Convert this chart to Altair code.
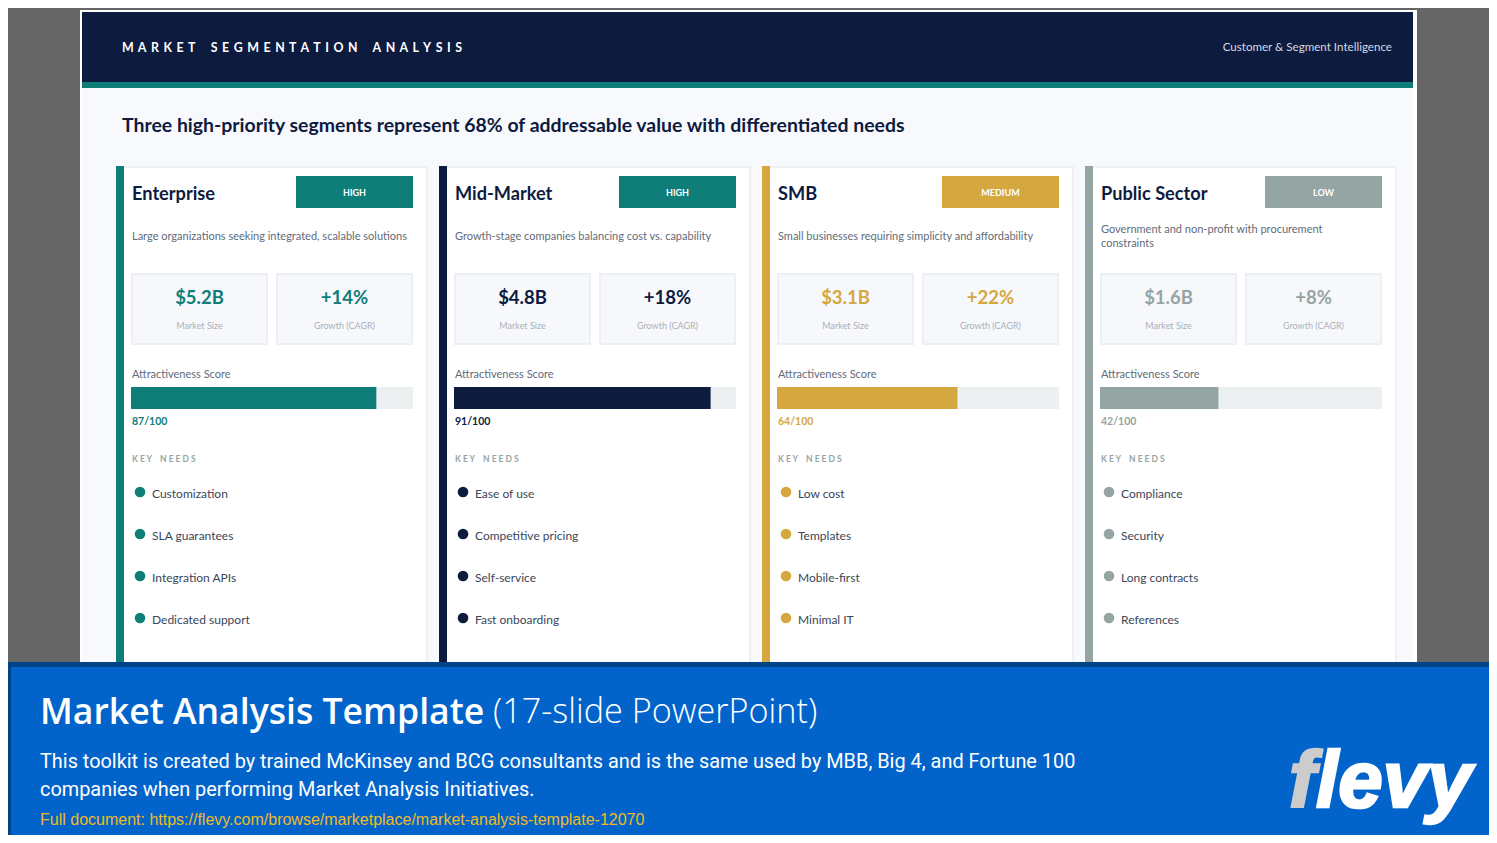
#! /usr/bin/env python3
"""Market segmentation slide with the flevy banner, drawn on one pixel-sized canvas."""
import altair as alt
import pandas as pd

segments = ["Enterprise", "Mid-Market", "SMB", "Public Sector"]
priorities = ["HIGH", "HIGH", "MEDIUM", "LOW"]
descriptions = [
    ["Large organizations seeking integrated, scalable solutions"],
    ["Growth-stage companies balancing cost vs. capability"],
    ["Small businesses requiring simplicity and affordability"],
    ["Government and non-profit with procurement", "constraints"],
]
market_sizes = ["$5.2B", "$4.8B", "$3.1B", "$1.6B"]
growth_rates = ["+14%", "+18%", "+22%", "+8%"]
scores = [87, 91, 64, 42]
key_needs = [
    ["Customization", "SLA guarantees", "Integration APIs", "Dedicated support"],
    ["Ease of use", "Competitive pricing", "Self-service", "Fast onboarding"],
    ["Low cost", "Templates", "Mobile-first", "Minimal IT"],
    ["Compliance", "Security", "Long contracts", "References"],
]
segment_colors = ["#0f7d78", "#0d1b3f", "#d4a73f", "#95a5a3"]
badge_colors = {"HIGH": "#0f7d78", "MEDIUM": "#d4a73f", "LOW": "#95a5a3"}

NAVY = "#0d1b3f"
SANS = "Lato"
BANNER = "Open Sans"
ARIAL = "Liberation Sans"

# the page keeps 8px round the chart, so the canvas covers 8..1489 and 8..835
RIGHT = 1489
BOTTOM = 835
x_scale = alt.Scale(domain=[8, RIGHT], range=[0, RIGHT - 8], nice=False, zero=False)
y_scale = alt.Scale(domain=[8, BOTTOM], range=[0, BOTTOM - 8], nice=False, zero=False)

rects = []
dots = []


def box(x, y, x2, y2, fill):
    rects.append({"x": x, "y": y, "x2": x2, "y2": y2, "fill": fill})


def text_layer(rows, size, font=SANS, weight="normal", align="left", **kw):
    df = pd.DataFrame(rows, columns=["x", "y", "t", "c"])
    return alt.Chart(df).mark_text(
        font=font, fontSize=size, fontWeight=weight, align=align, baseline="middle", **kw
    ).encode(
        x=alt.X("x:Q", scale=x_scale, axis=None),
        y=alt.Y("y:Q", scale=y_scale, axis=None),
        text="t:N",
        color=alt.Color("c:N", scale=None),
    )


def spaced(s, gap="\u2009 "):
    return gap.join(s.replace(" ", "\u2002"))


# slide frame
box(8, 8, RIGHT, BOTTOM, "#666666")
box(80, 10, 1417, BOTTOM, "#ffffff")
box(82, 12, 1413, BOTTOM, "#f8f9fd")
box(82, 12, 1413, 82, NAVY)
box(82, 82, 1413, 88, "#0f7d78")

names, badges, descs, values, captions, small, scored, heads, needs = [], [], [], [], [], [], [], [], []

for i, seg in enumerate(segments):
    left = 116 + 323 * i
    col = segment_colors[i]
    box(left, 166, left + 312, BOTTOM, "#eef0f5")
    box(left + 2, 168, left + 310, BOTTOM, "#ffffff")
    box(left, 166, left + 8, BOTTOM, col)
    box(left + 180, 176, left + 297, 208, badge_colors[priorities[i]])
    names.append([left + 16, 195, seg, NAVY])
    badges.append([left + 238.5, 192.5, priorities[i], "#ffffff"])

    lines = descriptions[i]
    first = 237 - 7 * (len(lines) - 1)
    for j, line in enumerate(lines):
        descs.append([left + 16, first + 14 * j, line, "#5f6b7a"])

    # the two metric boxes
    for k, (val, cap) in enumerate(zip([market_sizes[i], growth_rates[i]], ["Market Size", "Growth (CAGR)"])):
        bx = left + 15 + 145 * k
        box(bx, 273, bx + 137, 345, "#eceff3")
        box(bx + 2, 275, bx + 135, 343, "#f7f8fc")
        values.append([bx + 68.5, 297.5, val, col])
        captions.append([bx + 68.5, 326, cap, "#a9b1b7"])

    small.append([left + 16, 375, "Attractiveness Score", "#5f6b7a"])
    track = left + 15
    box(track, 387, track + 282, 409, "#edf0f1")
    box(track, 387, track + 282 * scores[i] / 100, 409, col)
    scored.append([left + 16, 421.5, f"{scores[i]}/100", col])
    heads.append([left + 16, 458.5, spaced("KEY NEEDS", " "), "#95a5a3"])

    for j, need in enumerate(key_needs[i]):
        dots.append({"x": left + 24, "y": 492 + 42 * j, "c": col})
        needs.append([left + 36, 493.5 + 42 * j, need, "#3a4658"])

# banner on top of the slide
box(8, 662, RIGHT, BOTTOM, "#004488")
box(11, 667, RIGHT, BOTTOM, "#0264cb")

rect_layer = alt.Chart(pd.DataFrame(rects)).mark_rect().encode(
    x=alt.X("x:Q", scale=x_scale, axis=None),
    x2="x2:Q",
    y=alt.Y("y:Q", scale=y_scale, axis=None),
    y2="y2:Q",
    color=alt.Color("fill:N", scale=None),
)

dot_layer = alt.Chart(pd.DataFrame(dots)).mark_circle(size=113, opacity=1).encode(
    x=alt.X("x:Q", scale=x_scale, axis=None),
    y=alt.Y("y:Q", scale=y_scale, axis=None),
    color=alt.Color("c:N", scale=None),
)

layers = [
    text_layer([[122, 48, spaced("MARKET SEGMENTATION ANALYSIS"), "#ffffff"]], 12.4, weight="bold"),
    text_layer([[1392, 48, "Customer & Segment Intelligence", "#d5d9e2"]], 11.6, align="right"),
    text_layer([[122, 126, "Three high-priority segments represent 68% of addressable value with differentiated needs", NAVY]], 19.45, weight="bold"),
    text_layer(names, 18.2, weight="bold"),
    text_layer(badges, 9, weight="bold", align="center"),
    text_layer(descs, 11),
    text_layer(values, 18.5, weight="bold", align="center"),
    text_layer(captions, 9, align="center"),
    text_layer(small, 11),
    text_layer(scored, 10.5, weight="bold"),
    text_layer(heads, 8.5, weight="bold"),
    text_layer(needs, 12),
    text_layer([[40, 713, "Market Analysis Template", "#ffffff"]], 35.6, font=BANNER, weight=600),
    text_layer([[493, 713, "(17-slide PowerPoint)", "#ffffff"]], 34.2, font=BANNER, weight=300),
    text_layer([[40, 762, "This toolkit is created by trained McKinsey and BCG consultants and is the same used by MBB, Big 4, and Fortune 100", "#ffffff"]], 19.9, font="Roboto"),
    text_layer([[40, 790, "companies when performing Market Analysis Initiatives.", "#ffffff"]], 19.9, font="Roboto"),
    text_layer([[40, 820, "Full document: https://flevy.com/browse/marketplace/market-analysis-template-12070", "#f0b91e"]], 16, font=ARIAL),
    text_layer([[1289, 783, "f", "#cccccc"]], 80, font=ARIAL, weight="bold", fontStyle="italic", stroke="#cccccc", strokeWidth=2.5),
    text_layer([[1316, 783, "levy", "#ffffff"]], 80, font=ARIAL, weight="bold", fontStyle="italic", stroke="#ffffff", strokeWidth=2.5),
]

chart = alt.layer(rect_layer, dot_layer, *layers).properties(
    width=RIGHT - 8, height=BOTTOM - 8, padding=0
).configure_view(stroke=None)

chart.save("out.html", embed_options={"renderer": "svg", "actions": False})
